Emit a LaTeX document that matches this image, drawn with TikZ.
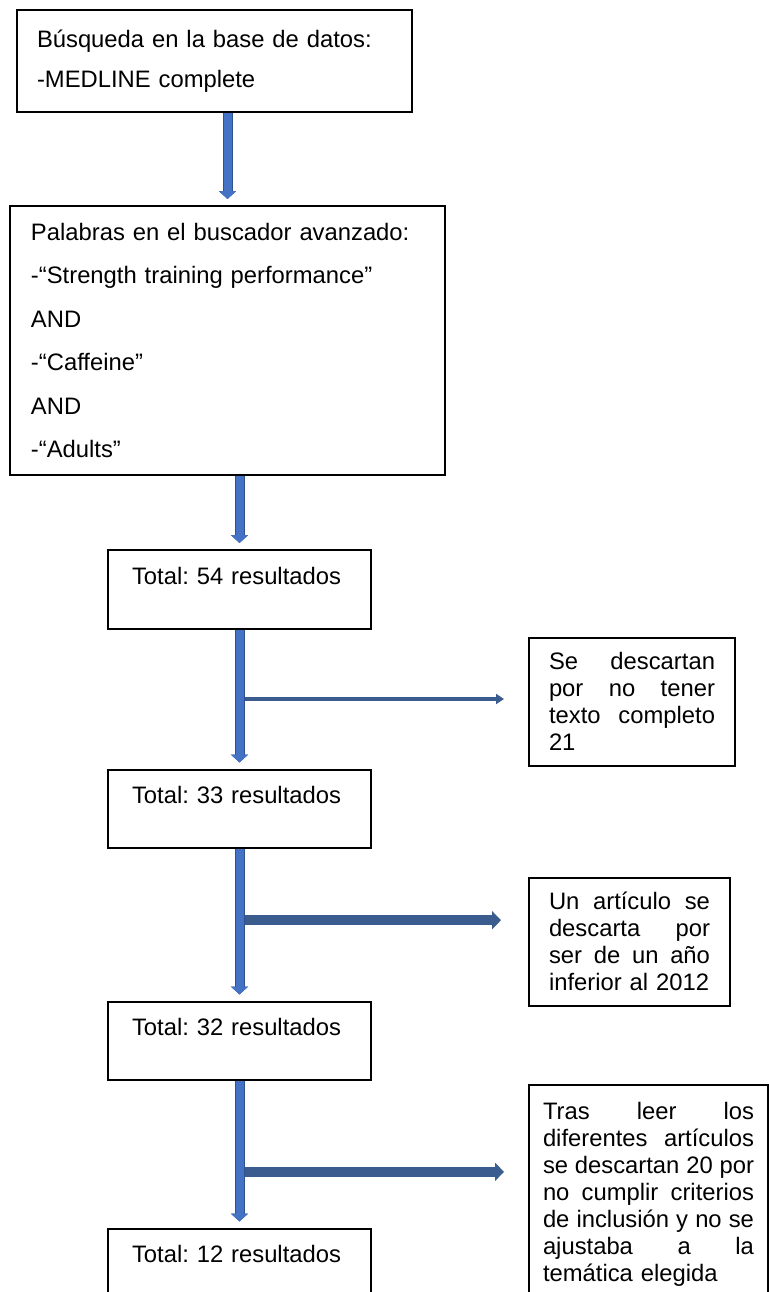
\documentclass[tikz,border=0pt]{standalone}
\usepackage{fontspec}
\setmainfont{Liberation Sans}
\usetikzlibrary{positioning,calc,arrows.meta}
\definecolor{flechaazul}{HTML}{4472C4}
\definecolor{bordeazul}{HTML}{2F528F}
\definecolor{flechaosc}{HTML}{3A5C8E}
\tikzset{bloque/.style={
        draw, 
        line width=1pt, 
        align=left, 
        inner ysep=0pt, 
        font=\fontsize{11.9}{13.5}\selectfont\frenchspacing } }
\tikzset{total/.style={
    bloque, 
    text width=107.5pt, 
    inner xsep=12pt, 
    minimum height=39.25pt } }
\tikzset{descarte/.style={ bloque, inner xsep=10pt } }
\tikzset{bajada/.style={
    flechaazul, 
    line width=4pt, 
    preaction={draw=bordeazul, line width=5pt}, 
    -{Triangle[width=8.5pt,length=4pt]}, 
    shorten >=3pt } }
\tikzset{lateral/.style={ flechaosc } }

\begin{document}
\begin{tikzpicture}[x=0.5pt,y=-0.5pt]
\useasboundingbox (0,0) rectangle (768,1292);

\node[bloque, text width=177.5pt, inner xsep=10pt, minimum height=51pt,
  font=\fontsize{11.9}{20}\selectfont\frenchspacing] (b1) at (214.5,61)
  {Búsqueda en la base de datos:\\-MEDLINE complete};
\node[bloque, text width=196.5pt, inner xsep=10.5pt, minimum height=134.5pt,
  font=\fontsize{11.9}{21.7}\selectfont\frenchspacing] (b2) [below=46pt of b1, xshift=6.5pt]
  {Palabras en el buscador avanzado:\\-“Strength training performance”\\AND\\-“Caffeine”\\AND\\-“Adults”};

\node[total] (b3) [below=36.5pt of b2, xshift=6pt] {Total: 54 resultados\\\mbox{}};
\node[total] (b5) [below=69.5pt of b3] {Total: 33 resultados\\\mbox{}};
\node[total] (b7) [below=75.75pt of b5] {Total: 32 resultados\\\mbox{}};
\node[total] (b8) [below=73.25pt of b7] {Total: 12 resultados\\\mbox{}};

%% descartes
\node[descarte, text width=83pt, minimum height=64pt] (b4)
  [right=78pt of b3.south east, anchor=north west, yshift=-3.5pt]
  {Se\hfill descartan\\por\hfill no\hfill tener\\texto\hfill completo\\21};
\node[descarte, text width=80.5pt, minimum height=64pt] (b6)
  [right=78pt of b7.north east, anchor=south west, yshift=-3pt]
  {Un\hfill artículo\hfill se\\descarta\hfill por\\ser\hfill de\hfill un\hfill año\\inferior al 2012};
\node[descarte, text width=105.5pt, inner xsep=7pt, inner ysep=8.5pt] (b9)
  [right=78pt of b7.south east, anchor=north west, yshift=-1.5pt]
  {Tras\hfill leer\hfill los\\diferentes\hfill artículos\\se\hfill descartan\hfill 20\hfill por\\no\hfill cumplir\hfill criterios\\de\hfill inclusión\hfill y\hfill no\hfill se\\ajustaba\hfill a\hfill la\\temática elegida\\\mbox{}};

\coordinate (h1) at ($(b3.south)!0.5!(b5.north)$);
\coordinate (h2) at ($(b5.south)!0.47!(b7.north)$);
\coordinate (h3) at ($(b7.south)!0.62!(b8.north)$);

\draw[lateral, line width=2pt, -{Triangle[width=5pt,length=4pt]}, shorten >=12pt]
  (h1) -- (h1 -| b4.west);
\draw[lateral, line width=5pt, -{Triangle[width=9pt,length=4.5pt]}, shorten >=13.5pt]
  (h2) -- (h2 -| b6.west);
\draw[lateral, line width=5pt, -{Triangle[width=9pt,length=4.5pt]}, shorten >=12pt]
  (h3) -- (h3 -| b9.west);

\draw[bajada] (b1.south -| b2.north) -- (b2.north);
\draw[bajada] (b2.south -| b3.north) -- (b3.north);
\draw[bajada] (b3) -- (b5);
\draw[bajada] (b5) -- (b7);
\draw[bajada] (b7) -- (b8);

\end{tikzpicture}
\end{document}
